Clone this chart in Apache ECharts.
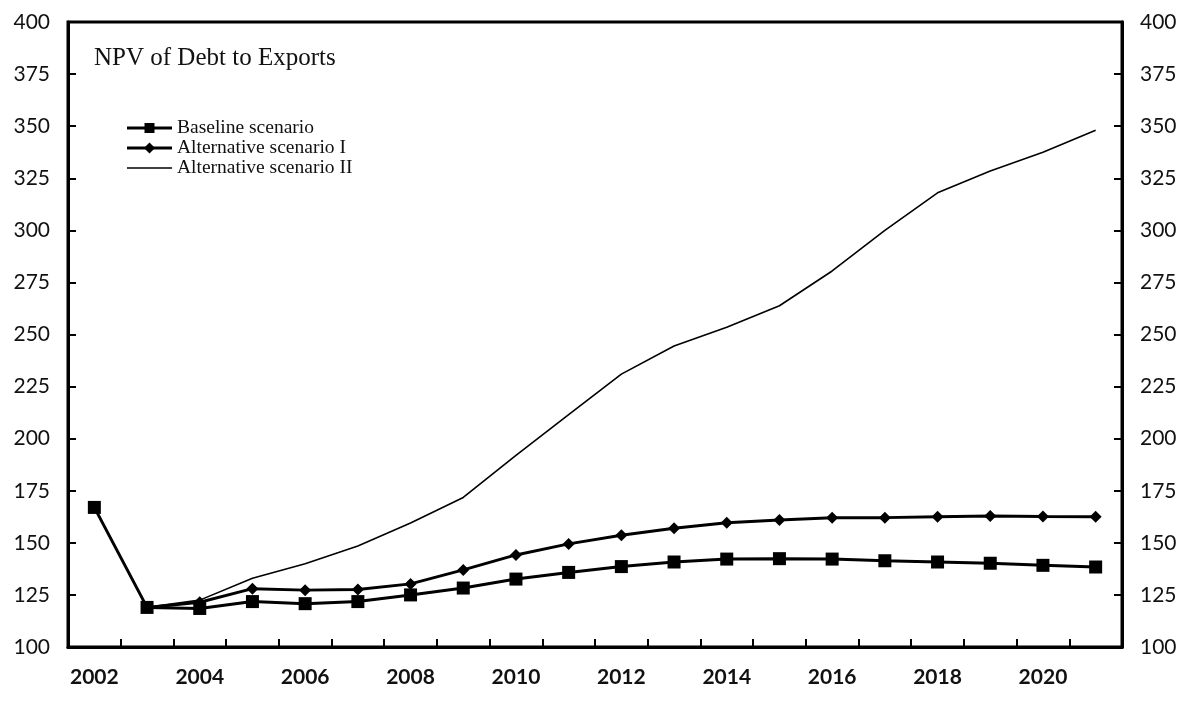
<!DOCTYPE html>
<html>
<head>
<meta charset="utf-8">
<script src="https://cdn.jsdelivr.net/npm/echarts@6/dist/echarts.min.js"></script>
<style>
html,body{margin:0;padding:0;background:#fff;}
#chart{width:1185px;height:702px;}
</style>
</head>
<body>
<div id="chart"></div>
<script>
const years = ['2002','2003','2004','2005','2006','2007','2008','2009','2010','2011','2012','2013','2014','2015','2016','2017','2018','2019','2020','2021'];
const baseline = [167,119,118.5,121.8,120.8,121.8,125,128.3,132.6,135.8,138.6,140.8,142.2,142.4,142.2,141.4,140.8,140.2,139.2,138.4];
const altI = [null,119,121.5,128,127.3,127.6,130.3,137,144.2,149.5,153.6,157,159.6,161,162,162.1,162.5,162.9,162.6,162.5];
const altII = [null,119,122.5,133,140,148.5,159.5,171.8,192,211.5,231,244.5,253.5,263.8,280.5,300,318,328.5,337.5,348];
const seriesNames = ['Baseline scenario','Alternative scenario I','Alternative scenario II'];
const titleText = 'NPV of Debt to Exports';

const chart = echarts.init(document.getElementById('chart'));
const serif = 'Liberation Serif';
const yAxisCommon = {
  type: 'value', min: 100, max: 400, interval: 25,
  axisLine: {show: true, lineStyle: {color: '#000', width: 3}},
  axisTick: {show: true, inside: true, length: 8, lineStyle: {color: '#000', width: 2}},
  splitLine: {show: false},
  axisLabel: {color: '#111', fontFamily: 'Lato', fontSize: 21, margin: 18}
};

// legend drawn as graphic elements (key only, not data)
const legX0 = 127, legX1 = 172, legRows = [128, 148, 168];
const legendGraphics = [];
seriesNames.forEach((nm, i) => {
  const y = legRows[i];
  legendGraphics.push({type: 'line', shape: {x1: legX0, y1: y, x2: legX1, y2: y},
    style: {stroke: '#000', lineWidth: i < 2 ? 3 : 1.5}});
  if (i === 0) legendGraphics.push({type: 'rect', shape: {x: 144.5, y: y - 5, width: 10, height: 10}, style: {fill: '#000'}});
  if (i === 1) legendGraphics.push({type: 'polygon', shape: {points: [[149.5, y - 5.5], [155, y], [149.5, y + 5.5], [144, y]]}, style: {fill: '#000'}});
  legendGraphics.push({type: 'text', x: 177, y: y, style: {text: nm, fill: '#111', font: '19.5px "Liberation Serif"', textVerticalAlign: 'middle', verticalAlign: 'middle'}});
});

chart.setOption({
  backgroundColor: '#fff',
  animation: false,
  title: {
    text: titleText, left: 89, top: 41,
    textStyle: {fontFamily: serif, fontSize: 25, fontWeight: 'normal', color: '#111'}
  },
  graphic: legendGraphics,
  grid: {left: 68, right: 63, top: 22, bottom: 55, show: true, borderColor: '#000', borderWidth: 3},
  xAxis: {
    type: 'category', data: years, boundaryGap: true,
    axisLine: {show: true, lineStyle: {color: '#000', width: 3}},
    axisTick: {show: true, inside: true, interval: 0, length: 8, lineStyle: {color: '#000', width: 2}},
    axisLabel: {interval: 1, color: '#111', fontFamily: 'Lato', fontWeight: 'bold', fontSize: 21, margin: 20}
  },
  yAxis: [
    Object.assign({position: 'left'}, yAxisCommon),
    Object.assign({position: 'right'}, yAxisCommon)
  ],
  series: [
    {name: seriesNames[0], type: 'line', data: baseline, symbol: 'rect', symbolSize: 13,
     lineStyle: {color: '#000', width: 3}, itemStyle: {color: '#000'}, z: 3},
    {name: seriesNames[1], type: 'line', data: altI, symbol: 'diamond', symbolSize: 12,
     lineStyle: {color: '#000', width: 3}, itemStyle: {color: '#000'}, z: 2},
    {name: seriesNames[2], type: 'line', data: altII, symbol: 'none', showSymbol: false,
     lineStyle: {color: '#000', width: 1.6}, itemStyle: {color: '#000'}, z: 1}
  ]
});
</script>
</body>
</html>
